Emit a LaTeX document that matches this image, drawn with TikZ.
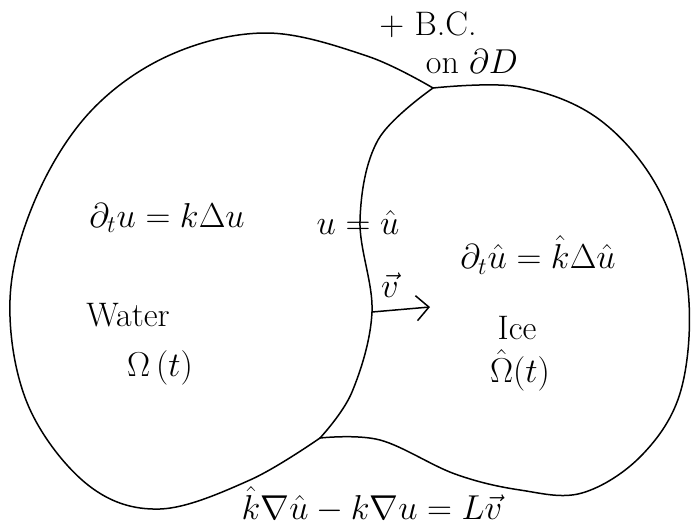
\documentclass[tikz,border=0pt]{standalone}
\usepackage{amsmath,amssymb}
\usepackage{tikz}
\usetikzlibrary{arrows.meta}
\tikzset{
  pen/.style={line width=.75pt, line join=round, line cap=round},
  lbl/.style={font=\fontsize{17}{19}\selectfont, inner sep=1pt},
  arr/.style={pen,-{Straight Barb[length=2.2mm]}}
}

\begin{document}
\begin{tikzpicture}[x=0.5pt,y=-0.5pt]
  \useasboundingbox (0,0) rectangle (691,525);
  \coordinate (top) at (433,88);
  \coordinate (bot) at (320,438);
  % water (left) boundary
  \draw[pen] plot[smooth,tension=0.6] coordinates {(433,88) (367,56) (267,33) (170,55) (90,112) (35,200) (10,300) (28,405) (88,485) (160,509) (250,480) (320,438)};
  % ice (right) boundary
  \draw[pen] plot[smooth,tension=0.6] coordinates {(433,88) (520,87) (600,120) (660,192) (688,290) (681,390) (642,455) (582,493) (520,490) (455,474) (380,440) (320,438)};
  % interface
  \draw[pen] plot[smooth,tension=0.6] coordinates {(433,88) (378,140) (360,220) (372,312) (352,392) (320,438)};
  \coordinate (vs) at (372,312);
  \coordinate (ve) at (430,307);
  \draw[arr] (vs) -- (ve);
  % labels
  \node[lbl] (bc) at (428,25) {$+$ B.C.};
  \node[lbl] (bd) at (472,62) {on $\partial D$};
  \node[lbl] (heatw) at (167,218) {$\partial_t u = k\Delta u$};
  \node[lbl] (cont) at (358,222) {$u=\hat u$};
  \node[lbl] (heati) at (538,255) {$\partial_t \hat u = \hat k\Delta \hat u$};
  \node[lbl] (vel) at (390,285) {$\vec v$};
  \node[lbl] (water) at (128,315) {Water};
  \node[lbl] (omw) at (160,368) {$\Omega\,(t)$};
  \node[lbl] (ice) at (517,328) {Ice};
  \node[lbl] (omi) at (520,370) {$\hat\Omega(t)$};
  \node[lbl,font=\fontsize{16}{18}\selectfont] (stef) at (372,504) {$\hat k\nabla\hat u - k\nabla u = L\vec v$};
\end{tikzpicture}
\end{document}
